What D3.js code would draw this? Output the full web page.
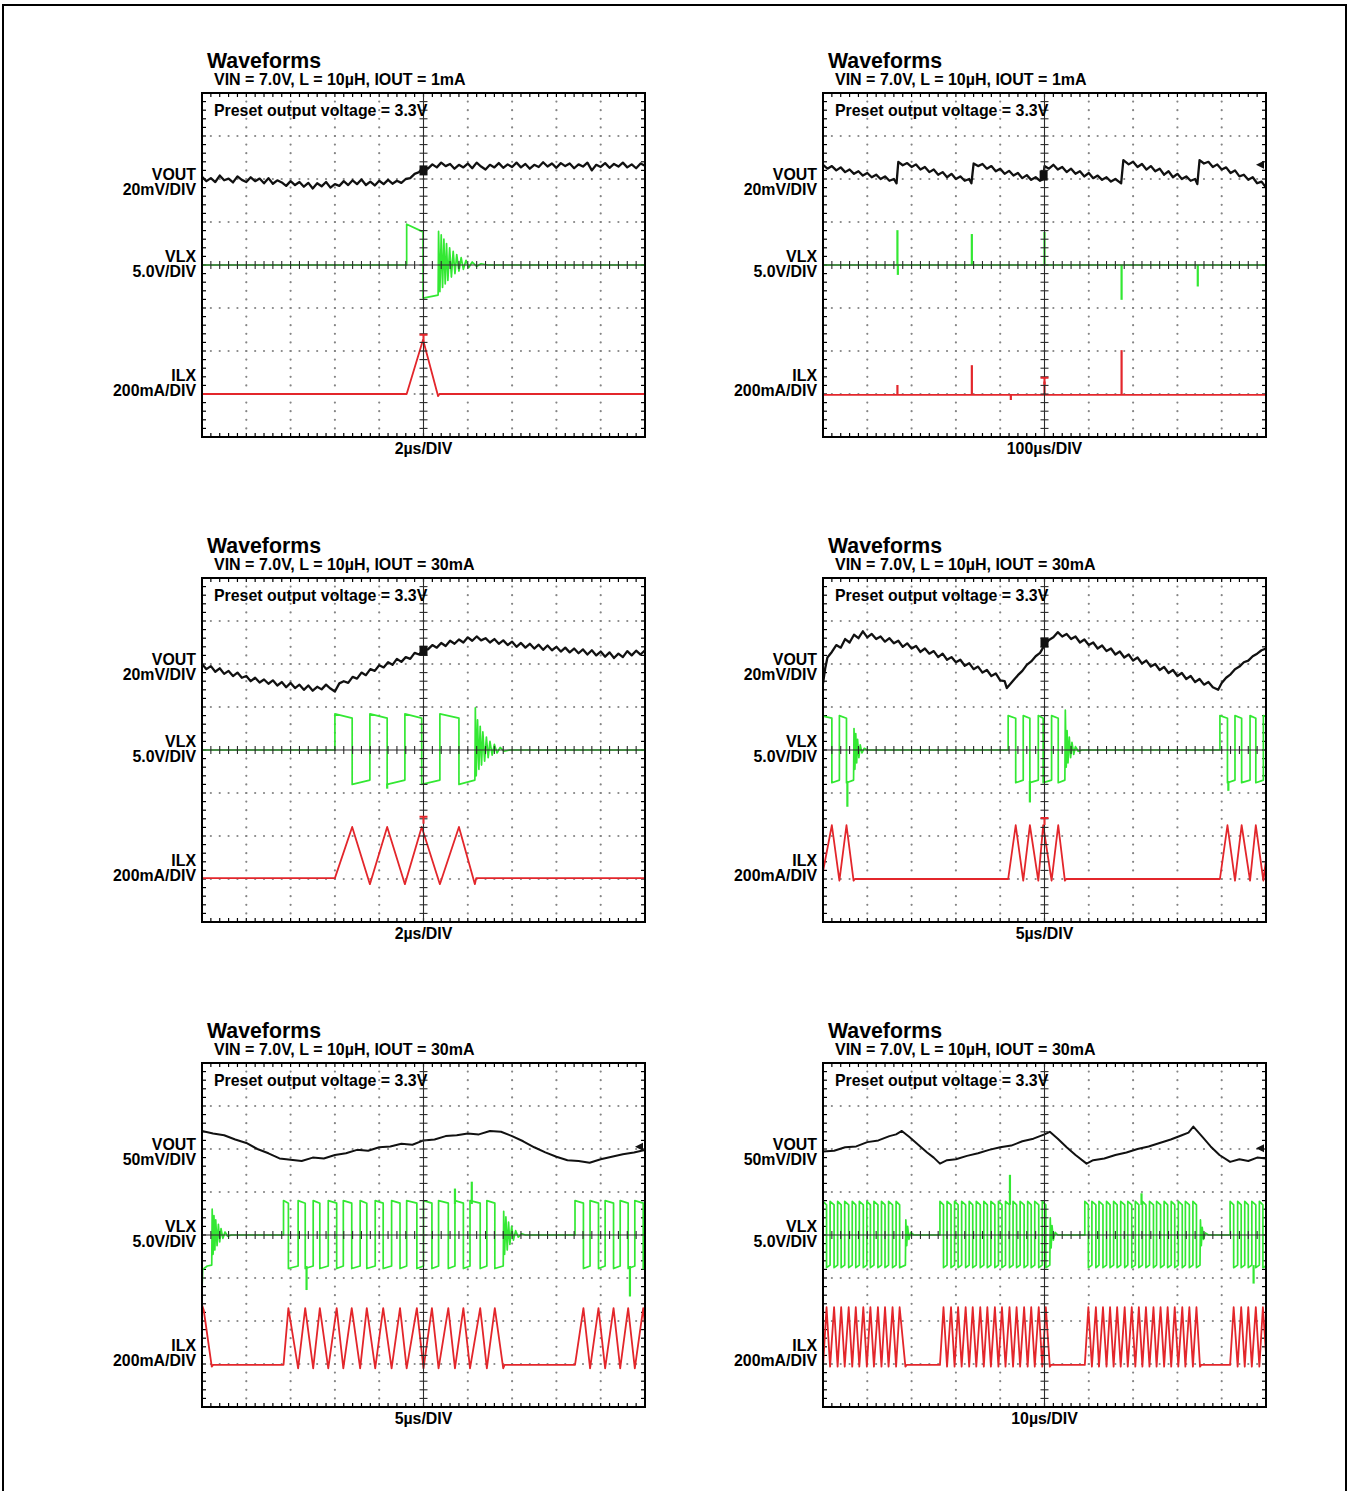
<!DOCTYPE html>
<html><head><meta charset="utf-8">
<script src="https://cdn.jsdelivr.net/npm/d3@7"></script>
<style>
body{margin:0;background:#fff}
svg{display:block}
text{font-family:"Liberation Sans",Arial,Helvetica,sans-serif;font-weight:bold;fill:#000}
</style>
</head><body>
<svg id="chart" width="1349" height="1491"></svg>
<script>
// ---------------- DATA (all trace values in screen divisions: t 0..10, v -4..4) ----------------
const chartTitle = "Waveforms";
const subtitles = [
  "VIN = 7.0V, L = 10µH, IOUT = 1mA", "VIN = 7.0V, L = 10µH, IOUT = 1mA",
  "VIN = 7.0V, L = 10µH, IOUT = 30mA", "VIN = 7.0V, L = 10µH, IOUT = 30mA",
  "VIN = 7.0V, L = 10µH, IOUT = 30mA", "VIN = 7.0V, L = 10µH, IOUT = 30mA"];
const presetNote = "Preset output voltage = 3.3V";
const channelNames = ["VOUT", "VLX", "ILX"];
const voutScales = ["20mV/DIV","20mV/DIV","20mV/DIV","20mV/DIV","50mV/DIV","50mV/DIV"];
const vlxScale = "5.0V/DIV";
const ilxScale = "200mA/DIV";
const timeScales = ["2µs/DIV","100µs/DIV","2µs/DIV","5µs/DIV","5µs/DIV","10µs/DIV"];

// VOUT traces [t, v]
const vout1 = [[0,2.05],[0.1,1.95],[0.2,2.02],[0.3,1.93],[0.4,2.08],[0.5,1.97],[0.6,2.01],[0.7,1.92],[0.8,2.06],[0.9,1.98],[1.0,1.93],[1.1,2.04],[1.2,1.95],[1.3,2.01],[1.4,1.90],[1.5,2.02],[1.6,1.89],[1.7,1.97],[1.8,1.92],[1.9,1.84],[2.0,1.95],[2.1,1.86],[2.2,1.93],[2.3,1.82],[2.4,1.91],[2.5,1.78],[2.6,1.90],[2.7,1.83],[2.8,1.93],[2.9,1.80],[3.0,1.88],[3.1,1.84],[3.2,1.95],[3.3,1.86],[3.4,1.97],[3.5,1.88],[3.6,1.99],[3.7,1.86],[3.8,1.94],[3.9,1.85],[4.0,1.96],[4.1,1.88],[4.2,1.98],[4.3,1.89],[4.4,1.96],[4.5,1.91],[4.6,2.0],[4.7,2.02],[4.8,2.12],[4.9,2.16],[5.0,2.28],[5.1,2.24],[5.2,2.34],[5.3,2.27],[5.4,2.38],[5.5,2.30],[5.6,2.35],[5.7,2.24],[5.8,2.33],[5.9,2.27],[6.0,2.36],[6.1,2.25],[6.2,2.38],[6.3,2.29],[6.4,2.22],[6.5,2.33],[6.6,2.27],[6.7,2.37],[6.8,2.26],[6.9,2.34],[7.0,2.28],[7.1,2.38],[7.2,2.27],[7.3,2.35],[7.4,2.24],[7.5,2.33],[7.6,2.28],[7.7,2.39],[7.8,2.29],[7.9,2.36],[8.0,2.26],[8.1,2.37],[8.2,2.30],[8.3,2.36],[8.4,2.25],[8.5,2.34],[8.6,2.29],[8.7,2.38],[8.8,2.20],[8.9,2.33],[9.0,2.28],[9.1,2.37],[9.2,2.26],[9.3,2.35],[9.4,2.29],[9.5,2.38],[9.6,2.27],[9.7,2.34],[9.8,2.25],[9.9,2.36],[10,2.31]];
const vout2 = [[0,2.33],[0.1,2.24],[0.2,2.30],[0.3,2.20],[0.4,2.27],[0.5,2.16],[0.6,2.22],[0.7,2.12],[0.8,2.18],[0.9,2.08],[1.0,2.14],[1.1,2.04],[1.2,2.10],[1.3,2.0],[1.4,2.06],[1.5,1.96],[1.6,2.0],[1.66,1.90],
  [1.70,2.40],[1.8,2.32],[1.9,2.37],[2.0,2.28],[2.1,2.34],[2.2,2.22],[2.3,2.28],[2.4,2.16],[2.5,2.22],[2.6,2.10],[2.7,2.16],[2.8,2.04],[2.9,2.12],[3.0,2.0],[3.1,2.06],[3.2,1.96],[3.3,2.0],[3.35,1.90],
  [3.40,2.36],[3.5,2.30],[3.6,2.35],[3.7,2.24],[3.8,2.30],[3.9,2.18],[4.0,2.24],[4.1,2.12],[4.2,2.19],[4.3,2.08],[4.4,2.14],[4.5,2.02],[4.6,2.09],[4.7,1.98],[4.8,2.04],[4.9,1.96],[4.97,2.0],
  [5.0,2.3],[5.1,2.24],[5.2,2.33],[5.3,2.22],[5.4,2.28],[5.5,2.16],[5.6,2.24],[5.7,2.12],[5.8,2.18],[5.9,2.06],[6.0,2.14],[6.1,2.02],[6.2,2.08],[6.3,1.98],[6.4,2.04],[6.5,1.94],[6.6,2.0],[6.73,1.90],
  [6.78,2.44],[6.9,2.34],[7.0,2.40],[7.1,2.28],[7.2,2.35],[7.3,2.22],[7.4,2.30],[7.5,2.18],[7.6,2.24],[7.7,2.10],[7.8,2.18],[7.9,2.04],[8.0,2.12],[8.1,2.0],[8.2,2.06],[8.3,1.96],[8.4,2.0],[8.45,1.88],
  [8.50,2.44],[8.6,2.36],[8.7,2.40],[8.8,2.28],[8.9,2.34],[9.0,2.22],[9.1,2.27],[9.2,2.14],[9.3,2.20],[9.4,2.06],[9.5,2.10],[9.6,1.98],[9.7,2.04],[9.8,1.90],[9.9,1.94],[10,1.80]];
const vout3 = [[0,2.0],[0.1,1.88],[0.2,1.95],[0.3,1.82],[0.4,1.90],[0.5,1.77],[0.6,1.84],[0.7,1.72],[0.8,1.80],[0.9,1.68],[1.0,1.72],[1.1,1.60],[1.2,1.68],[1.3,1.57],[1.4,1.64],[1.5,1.54],[1.6,1.62],[1.7,1.50],[1.8,1.58],[1.9,1.46],[2.0,1.56],[2.1,1.44],[2.2,1.52],[2.3,1.40],[2.4,1.50],[2.5,1.38],[2.6,1.47],[2.7,1.41],[2.8,1.52],[2.9,1.43],[3.0,1.36],[3.1,1.55],[3.2,1.60],[3.3,1.56],[3.4,1.70],[3.5,1.66],[3.6,1.80],[3.7,1.74],[3.8,1.88],[3.9,1.84],[4.0,1.97],[4.1,1.92],[4.2,2.04],[4.3,1.98],[4.4,2.12],[4.5,2.05],[4.6,2.16],[4.7,2.12],[4.8,2.26],[4.9,2.22],[5.0,2.33],[5.1,2.34],[5.2,2.44],[5.3,2.38],[5.4,2.49],[5.5,2.42],[5.6,2.54],[5.7,2.47],[5.8,2.57],[5.9,2.50],[6.0,2.62],[6.1,2.54],[6.2,2.64],[6.3,2.55],[6.4,2.60],[6.5,2.50],[6.6,2.58],[6.7,2.47],[6.8,2.55],[6.9,2.44],[7.0,2.52],[7.1,2.40],[7.2,2.49],[7.3,2.38],[7.4,2.47],[7.5,2.36],[7.6,2.45],[7.7,2.33],[7.8,2.43],[7.9,2.32],[8.0,2.40],[8.1,2.29],[8.2,2.38],[8.3,2.27],[8.4,2.36],[8.5,2.25],[8.6,2.34],[8.7,2.22],[8.8,2.32],[8.9,2.20],[9.0,2.29],[9.1,2.17],[9.2,2.27],[9.3,2.14],[9.4,2.24],[9.5,2.16],[9.6,2.30],[9.7,2.20],[9.8,2.31],[9.9,2.22],[10,2.32]];
const vout4 = [[0,1.55],[0.05,1.9],[0.1,2.15],[0.2,2.28],[0.3,2.44],[0.4,2.38],[0.5,2.58],[0.6,2.5],[0.7,2.68],[0.8,2.6],[0.9,2.76],[1.0,2.62],[1.1,2.70],[1.2,2.58],[1.3,2.64],[1.4,2.52],[1.5,2.60],[1.6,2.48],[1.7,2.54],[1.8,2.40],[1.9,2.48],[2.0,2.36],[2.1,2.42],[2.2,2.28],[2.3,2.36],[2.4,2.24],[2.5,2.30],[2.6,2.16],[2.7,2.24],[2.8,2.10],[2.9,2.16],[3.0,2.04],[3.1,2.10],[3.2,1.96],[3.3,2.02],[3.4,1.88],[3.5,1.94],[3.6,1.80],[3.7,1.86],[3.8,1.72],[3.9,1.78],[4.0,1.62],[4.1,1.60],[4.15,1.44],[4.3,1.62],[4.4,1.74],[4.5,1.84],[4.6,1.98],[4.7,2.06],[4.8,2.18],[4.9,2.26],[5.0,2.44],[5.1,2.56],[5.2,2.62],[5.3,2.74],[5.4,2.64],[5.5,2.70],[5.6,2.58],[5.7,2.64],[5.8,2.50],[5.9,2.57],[6.0,2.44],[6.1,2.50],[6.2,2.36],[6.3,2.43],[6.4,2.30],[6.5,2.36],[6.6,2.22],[6.7,2.29],[6.8,2.15],[6.9,2.22],[7.0,2.08],[7.1,2.15],[7.2,2.01],[7.3,2.08],[7.4,1.94],[7.5,2.0],[7.6,1.86],[7.7,1.93],[7.8,1.79],[7.9,1.86],[8.0,1.72],[8.1,1.79],[8.2,1.65],[8.3,1.72],[8.4,1.58],[8.5,1.65],[8.6,1.52],[8.7,1.58],[8.8,1.46],[8.92,1.40],[9.0,1.56],[9.1,1.68],[9.2,1.76],[9.3,1.88],[9.4,1.94],[9.5,2.04],[9.6,2.08],[9.7,2.18],[9.8,2.24],[9.9,2.32],[10,2.36]];
const vout5 = [[0,2.42],[0.25,2.36],[0.5,2.32],[0.75,2.22],[1.0,2.14],[1.25,2.0],[1.5,1.9],[1.75,1.78],[2.0,1.75],[2.25,1.72],[2.5,1.8],[2.75,1.78],[3.0,1.86],[3.25,1.9],[3.5,1.98],[3.75,1.96],[4.0,2.04],[4.25,2.06],[4.5,2.12],[4.75,2.1],[5.0,2.2],[5.25,2.22],[5.5,2.3],[5.75,2.32],[6.0,2.36],[6.25,2.34],[6.5,2.42],[6.75,2.4],[7.0,2.3],[7.25,2.18],[7.5,2.04],[7.75,1.92],[8.0,1.82],[8.25,1.74],[8.5,1.72],[8.75,1.68],[9.0,1.76],[9.25,1.82],[9.5,1.88],[9.75,1.92],[10,1.98]];
const vout6 = [[0,1.94],[0.25,1.96],[0.5,2.04],[0.75,2.06],[1.0,2.16],[1.25,2.2],[1.5,2.3],[1.65,2.34],[1.78,2.42],[1.95,2.28],[2.15,2.1],[2.35,1.92],[2.5,1.8],[2.64,1.66],[2.8,1.74],[3.0,1.76],[3.25,1.84],[3.5,1.9],[3.75,1.98],[4.0,2.04],[4.25,2.08],[4.5,2.18],[4.75,2.24],[5.0,2.34],[5.12,2.4],[5.3,2.24],[5.5,2.04],[5.7,1.86],[5.95,1.66],[6.1,1.74],[6.35,1.78],[6.6,1.86],[6.85,1.92],[7.1,2.0],[7.35,2.06],[7.6,2.14],[7.85,2.22],[8.1,2.32],[8.25,2.38],[8.36,2.52],[8.55,2.3],[8.75,2.06],[8.95,1.86],[9.19,1.7],[9.4,1.76],[9.6,1.72],[9.8,1.8],[10,1.78]];
const voutSeries = [vout1, vout2, vout3, vout4, vout5, vout6];

// Switching bursts: edges alternate switch-on / switch-off times; odd-length list ends with the burst end.
const bursts1 = [{edges:[4.62,4.99,5.33], ring:[[5.34,0.78],[5.37,-0.62],[5.40,0.70],[5.43,-0.52],[5.46,0.6],[5.49,-0.44],[5.52,0.5],[5.55,-0.36],[5.59,0.4],[5.63,-0.28],[5.67,0.32],[5.71,-0.2],[5.75,0.24],[5.80,-0.14],[5.85,0.17],[5.9,-0.1],[5.96,0.11],[6.02,-0.06],[6.1,0.07],[6.2,-0.03],[6.3,0.03],[6.45,0]]}];
const bursts2 = [];
const bursts3 = [{edges:[3.0,3.39,3.79,4.18,4.58,4.96,5.37,5.80,6.16], ring:[[6.17,0.98],[6.19,-0.6],[6.22,0.7],[6.25,-0.45],[6.28,0.55],[6.31,-0.35],[6.34,0.42],[6.38,-0.26],[6.42,0.3],[6.46,-0.18],[6.5,0.2],[6.55,-0.12],[6.6,0.13],[6.66,-0.07],[6.73,0.06],[6.82,-0.03],[6.95,0]]}];
const bursts4 = [
  {edges:[-0.04,0.2,0.37,0.53,0.69], ring:[[0.7,0.5],[0.72,-0.45],[0.74,0.38],[0.76,-0.3],[0.78,0.25],[0.81,-0.18],[0.84,0.12],[0.88,-0.07],[0.93,0.04],[1.0,0]]},
  {edges:[4.18,4.35,4.52,4.67,4.86,4.97,5.16,5.31,5.46], ring:[[5.47,0.93],[5.49,-0.4],[5.51,0.45],[5.53,-0.3],[5.56,0.3],[5.59,-0.18],[5.62,0.18],[5.66,-0.1],[5.7,0.08],[5.76,-0.03],[5.85,0]]},
  {edges:[8.96,9.13,9.30,9.45,9.64,9.77,9.94,10.1]}];
const bursts5 = [
  {edges:[1.84,1.95,2.17,2.33,2.51,2.66,2.85,3.04,3.19,3.38,3.57,3.72,3.91,4.09,4.28,4.47,4.62,4.85,5.0,5.19,5.34,5.56,5.71,5.9,6.05,6.28,6.43,6.61,6.8], ring:[[6.81,0.55],[6.83,-0.45],[6.86,0.42],[6.89,-0.35],[6.92,0.3],[6.95,-0.22],[6.99,0.2],[7.03,-0.12],[7.08,0.1],[7.14,-0.05],[7.22,0.03],[7.3,0]]},
  {edges:[8.42,8.61,8.76,8.95,9.10,9.29,9.44,9.62,9.77,9.96,10.1,10.3]}];
const bursts6 = [
  {edges:[0.0,0.08,0.16,0.25,0.33,0.41,0.49,0.58,0.66,0.74,0.82,0.91,0.99,1.07,1.15,1.24,1.32,1.40,1.48,1.57,1.65,1.73,1.86], ring:[[1.87,0.35],[1.89,-0.25],[1.91,0.2],[1.94,-0.1],[1.98,0.06],[2.05,0]]},
  {edges:[2.64,2.72,2.80,2.89,2.97,3.05,3.13,3.22,3.30,3.38,3.46,3.55,3.63,3.71,3.79,3.88,3.96,4.04,4.12,4.21,4.29,4.37,4.45,4.54,4.62,4.70,4.78,4.87,4.95,5.03,5.12], ring:[[5.13,0.4],[5.15,-0.3],[5.17,0.22],[5.2,-0.12],[5.24,0.06],[5.3,0]]},
  {edges:[5.91,5.99,6.07,6.16,6.23,6.32,6.40,6.48,6.56,6.64,6.72,6.81,6.88,6.97,7.05,7.13,7.21,7.29,7.37,7.46,7.53,7.62,7.70,7.78,7.86,7.94,8.02,8.11,8.18,8.27,8.35,8.43,8.51], ring:[[8.52,0.35],[8.54,-0.25],[8.56,0.18],[8.59,-0.1],[8.63,0.05],[8.7,0]]},
  {edges:[9.19,9.27,9.36,9.44,9.52,9.60,9.68,9.77,9.85,9.93,10.02,10.1]}];
const burstSeries = [bursts1, bursts2, bursts3, bursts4, bursts5, bursts6];

// VLX levels (start/end of high, start/end of low) and ILX levels (baseline, peak, valley)
const vlxLevels = [
  {hi:0.95, hiEnd:0.77, lo:-0.77, loEnd:-0.70},
  null,
  {hi:0.84, hiEnd:0.74, lo:-0.80, loEnd:-0.70},
  {hi:0.80, hiEnd:0.74, lo:-0.76, loEnd:-0.70},
  {hi:0.80, hiEnd:0.74, lo:-0.78, loEnd:-0.72},
  {hi:0.78, hiEnd:0.70, lo:-0.76, loEnd:-0.70}];
const ilxLevels = [
  {base:-3.0, peak:-1.74, valley:-3.05},
  {base:-3.02},
  {base:-2.98, peak:-1.79, valley:-3.12},
  {base:-3.0, peak:-1.75, valley:-3.04},
  {base:-3.02, peak:-1.70, valley:-3.10},
  {base:-3.02, peak:-1.68, valley:-3.06}];
const vlxLead = [null, null, null, null,
  [[0,-1.3],[0.015,-0.8],[0.12,-0.72],[0.22,-0.7],[0.23,0.6],[0.25,-0.45],[0.27,0.45],[0.29,-0.35],[0.31,0.35],[0.34,-0.25],[0.37,0.25],[0.4,-0.16],[0.43,0.15],[0.47,-0.08],[0.52,0.07],[0.58,-0.03],[0.66,0]], null];
const ilxLead = [null, null, null, null, [[0,-1.62],[0.04,-1.75],[0.22,-3.06],[0.25,-3.02]], null];
// isolated spikes [t, from, to]
const vlxSpikes = [
  [],
  [[1.68,0,0.81],[1.69,0,-0.23],[3.36,0,0.72],[5.0,0,0.77],[6.74,0,-0.81],[8.46,0,-0.5]],
  [[4.18,-0.78,-0.9]],
  [[0.55,-0.72,-1.32],[4.67,-0.72,-1.22],[9.15,-0.72,-0.95]],
  [[2.36,-0.72,-1.28],[5.71,0.72,1.08],[6.09,0.72,1.24],[9.66,-0.72,-1.43]],
  [[4.22,0.7,1.4],[7.19,0.7,0.97],[9.72,-0.7,-1.13]]];
const ilxSpikes = [[], [[1.68,-3.02,-2.79],[3.36,-3.02,-2.33],[4.24,-3.02,-3.14],[5.0,-3.02,-2.71],[6.74,-3.02,-1.98]], [], [], [], []];
// scope markers
const voutMarks = [[5.0,2.2],[4.98,2.08],[5.0,2.31],[5.0,2.5],null,null];
const trigMarks = [[5.0,-1.62],[5.0,-2.62],[5.0,-1.55],[5.0,-1.58],null,null];
const refArrows = [null,2.33,null,null,2.05,2.02];

// ---------------- LAYOUT ----------------
const W = 443, H = 344;
const panelPos = [[202,93],[823,93],[202,578],[823,578],[202,1063],[823,1063]];
const COL = {vout:"#111111", vlx:"#33e833", ilx:"#e3262b", grid:"#858585"};

const svg = d3.select("#chart");
svg.append("rect").attr("x",3).attr("y",5).attr("width",1343).attr("height",1500)
  .attr("fill","none").attr("stroke","#000").attr("stroke-width",2);

function vlxPoints(i) {
  const L = vlxLevels[i], bs = burstSeries[i];
  let pts = vlxLead[i] ? vlxLead[i].slice() : [];
  if (!vlxLead[i] && (!bs.length || bs[0].edges[0] > 0)) pts.push([0,0]);
  let ended = true;
  bs.forEach(b => {
    const e = b.edges, n = e.length;
    for (let k = 0; k < n; k++) {
      const t = e[k];
      if (k % 2 === 0) {
        if (k === 0) { if (t > 0) pts.push([t,0]); }
        else pts.push([t, L.loEnd]);
        if (k !== n-1) pts.push([t, L.hi]);
      } else {
        pts.push([t, L.hiEnd]); pts.push([t, L.lo]);
      }
    }
    ended = (n % 2 === 1);
    if (ended) { if (b.ring) pts = pts.concat(b.ring); else pts.push([e[n-1],0]); }
  });
  if (ended) pts.push([10,0]);
  return pts;
}
function ilxPoints(i) {
  const L = ilxLevels[i], bs = burstSeries[i];
  let pts = ilxLead[i] ? ilxLead[i].slice() : [];
  if (!ilxLead[i] && (!bs.length || bs[0].edges[0] > 0)) pts.push([0,L.base]);
  let ended = true;
  bs.forEach(b => {
    const e = b.edges, n = e.length;
    for (let k = 0; k < n; k++) {
      const t = e[k];
      if (k % 2 === 0) pts.push([t, (k === 0 && t > 0) ? L.base : L.valley]);
      else pts.push([t, L.peak]);
    }
    ended = (n % 2 === 1);
    if (ended) pts.push([e[n-1] + 0.03, L.base]);
  });
  if (ended) pts.push([10, L.base]);
  return pts;
}

function drawPanel(i) {
  const [x0, y0] = panelPos[i];
  const x = d3.scaleLinear().domain([0,10]).range([x0, x0+W]);
  const y = d3.scaleLinear().domain([-4,4]).range([y0+H, y0]);
  const g = svg.append("g");
  const clipId = "clip"+i;
  g.append("clipPath").attr("id",clipId).append("rect")
    .attr("x",x0).attr("y",y0).attr("width",W).attr("height",H);

  const xMinor = d3.range(51).map(k => k*0.2);
  const yMinor = d3.range(41).map(k => -4 + k*0.2);
  // dotted graticule
  const dots = [];
  [1,2,3,4,6,7,8,9].forEach(c => yMinor.forEach(v => dots.push([c, v])));
  [-3,-2,-1,1,2,3].forEach(r => xMinor.forEach(t => dots.push([t, r])));
  g.append("g").selectAll("circle").data(dots).join("circle")
    .attr("cx", d => x(d[0])).attr("cy", d => y(d[1])).attr("r",1.1).attr("fill",COL.grid);

  // frame ticks
  const tk = g.append("g").attr("stroke","#000").attr("stroke-width",1.2);
  xMinor.forEach(t => {
    tk.append("line").attr("x1",x(t)).attr("x2",x(t)).attr("y1",y0).attr("y2",y0+4);
    tk.append("line").attr("x1",x(t)).attr("x2",x(t)).attr("y1",y0+H).attr("y2",y0+H-4);
  });
  yMinor.forEach(v => {
    tk.append("line").attr("y1",y(v)).attr("y2",y(v)).attr("x1",x0).attr("x2",x0+4);
    tk.append("line").attr("y1",y(v)).attr("y2",y(v)).attr("x1",x0+W).attr("x2",x0+W-4);
  });

  const line = d3.line().x(d => x(d[0])).y(d => y(d[1]));
  const tr = g.append("g").attr("clip-path",`url(#${clipId})`).attr("fill","none")
    .attr("stroke-linejoin","round");

  // ILX
  tr.append("path").attr("d", line(ilxPoints(i))).attr("stroke",COL.ilx).attr("stroke-width",1.8);
  ilxSpikes[i].forEach(s => tr.append("path").attr("d", line([[s[0],s[1]],[s[0],s[2]]]))
    .attr("stroke",COL.ilx).attr("stroke-width",2.2));
  // VLX
  const vp = vlxLevels[i] ? vlxPoints(i) : [[0,0],[10,0]];
  tr.append("path").attr("d", line(vp)).attr("stroke",COL.vlx).attr("stroke-width",1.7);
  vlxSpikes[i].forEach(s => tr.append("path").attr("d", line([[s[0],s[1]],[s[0],s[2]]]))
    .attr("stroke",COL.vlx).attr("stroke-width",2.2));
  // VOUT
  tr.append("path").attr("d", line(voutSeries[i])).attr("stroke",COL.vout)
    .attr("stroke-width", i >= 4 ? 2 : 2.3);

  // center crosshair with ticks
  const cc = g.append("g").attr("stroke","#2a2a2a").attr("stroke-width",1.1);
  cc.append("line").attr("x1",x(5)).attr("x2",x(5)).attr("y1",y0).attr("y2",y0+H);
  cc.append("line").attr("x1",x0).attr("x2",x0+W).attr("y1",y(0)).attr("y2",y(0));
  yMinor.forEach(v => cc.append("line").attr("x1",x(5)-4).attr("x2",x(5)+4).attr("y1",y(v)).attr("y2",y(v)));
  xMinor.forEach(t => cc.append("line").attr("x1",x(t)).attr("x2",x(t)).attr("y1",y(0)-4).attr("y2",y(0)+4));

  // markers
  if (voutMarks[i]) g.append("rect").attr("x",x(voutMarks[i][0])-4).attr("y",y(voutMarks[i][1])-5)
    .attr("width",8).attr("height",10).attr("fill","#111");
  if (trigMarks[i]) {
    const mx = x(trigMarks[i][0]), my = y(trigMarks[i][1]);
    g.append("path").attr("d",`M${mx-4},${my}H${mx+4}M${mx},${my}V${my+7}`)
      .attr("stroke",COL.ilx).attr("stroke-width",2).attr("fill","none");
  }
  if (refArrows[i] !== null) {
    const ax = x(10) - 2, ay = y(refArrows[i]);
    g.append("path").attr("d",`M${ax-8},${ay}L${ax},${ay-4}L${ax},${ay+4}Z`).attr("fill","#111");
  }

  // frame
  g.append("rect").attr("x",x0).attr("y",y0).attr("width",W).attr("height",H)
    .attr("fill","none").attr("stroke","#000").attr("stroke-width",2);

  // texts
  g.append("text").attr("x",x0+5).attr("y",y0-25).attr("font-size",21.3).text(chartTitle);
  g.append("text").attr("x",x0+12).attr("y",y0-8).attr("font-size",16).text(subtitles[i]);
  g.append("text").attr("x",x0+12).attr("y",y0+23).attr("font-size",15.9).text(presetNote);
  const lab = [[channelNames[0], 87],[voutScales[i],102],[channelNames[1],169],[vlxScale,184],[channelNames[2],288],[ilxScale,303]];
  lab.forEach(l => g.append("text").attr("x",x0-6).attr("y",y0+l[1]).attr("text-anchor","end")
    .attr("font-size",15.9).text(l[0]));
  g.append("text").attr("x",x(5)).attr("y",y0+H+17).attr("text-anchor","middle")
    .attr("font-size",15.9).text(timeScales[i]);
}
d3.range(6).forEach(drawPanel);
</script>
</body></html>
